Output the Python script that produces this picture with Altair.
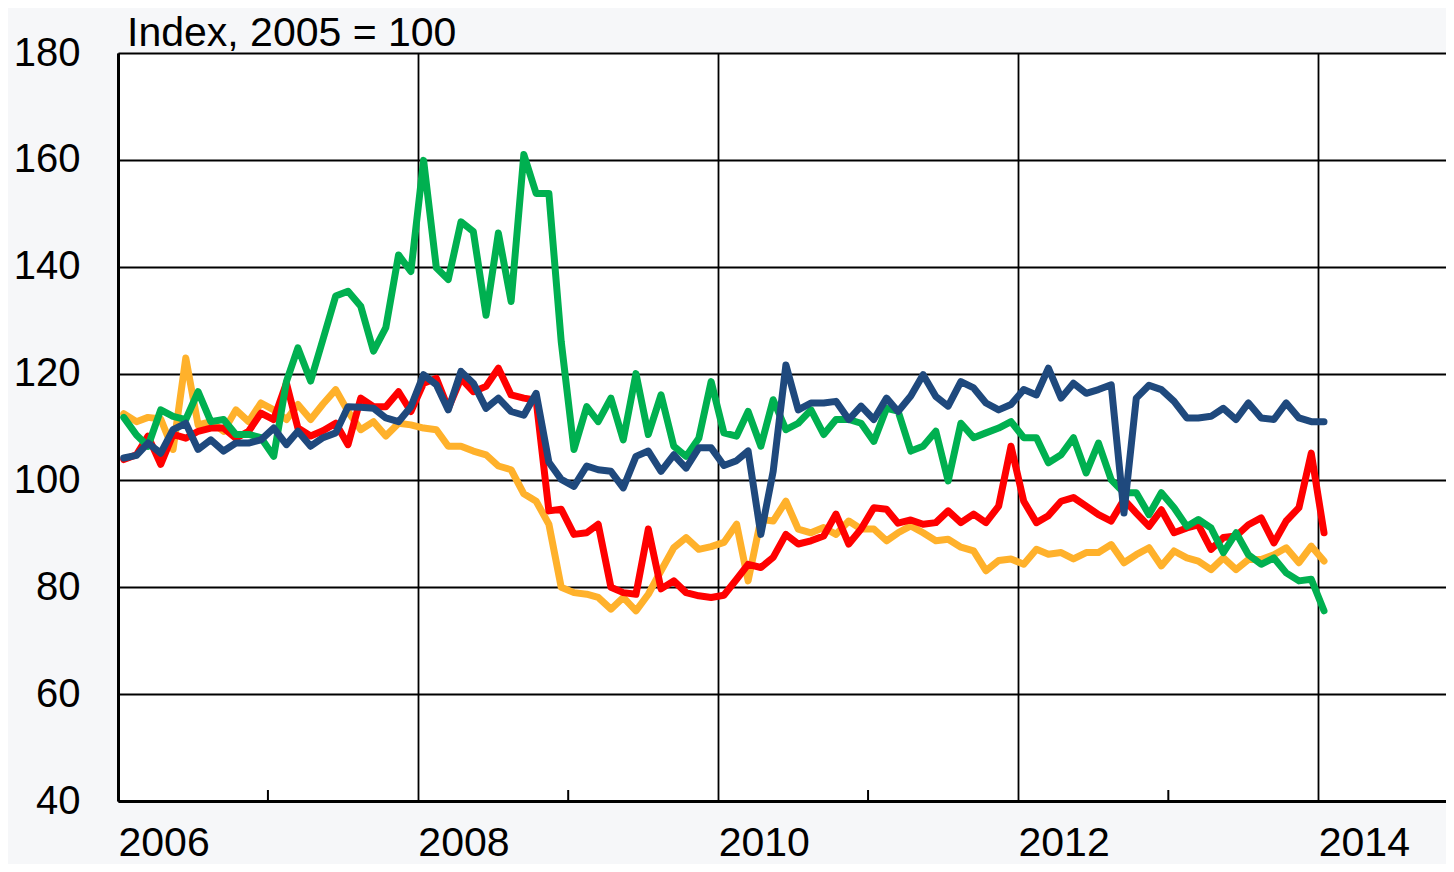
import altair as alt
import pandas as pd

# Monthly observations, Jan 2006 .. Jan 2014 (97 months)
months = pd.date_range("2006-01-01", periods=97, freq="MS") + pd.Timedelta(days=14)

orange = [112.5, 111, 111.8, 111.5, 105.8, 122.9, 110.4, 111, 109.2, 113.2, 111, 114.5, 113.2, 111.4, 114.2, 111.4,
          114.3, 117, 112.9, 109.5, 111, 108.3, 110.7, 110.4, 109.8, 109.5, 106.4, 106.4, 105.5, 104.8, 102.7, 102,
          97.5, 96.1, 91.8, 80, 79, 78.7, 78.1, 75.9, 78.1, 75.6, 78.7, 83.1, 87.4, 89.3, 87.1, 87.6,
          88.4, 91.8, 81.2, 92.7, 92.4, 96.1, 90.9, 90.2, 91.2, 89.9, 92.4, 90.9, 90.9, 88.7, 90.2, 91.5,
          90.2, 88.7, 89, 87.5, 86.8, 83.1, 85, 85.3, 84.3, 87.1, 86.2, 86.5, 85.3, 86.5, 86.5, 88,
          84.6, 86.1, 87.4, 84, 86.8, 85.5, 84.9, 83.3, 85.5, 83.3, 85.2, 85.2, 86.1, 87.4, 84.6, 87.7, 84.9]

red = [103.9, 104.8, 108.3, 103, 108.6, 107.9, 109.2, 109.8, 109.8, 107.9, 109.2, 112.6, 111.4, 118.2, 109.8, 108.3,
       109.3, 110.7, 106.7, 115.4, 113.8, 113.8, 116.6, 112.9, 118.2, 119.1, 113.5, 119.1, 116.6, 117.6, 121, 116,
       115.4, 115, 94.3, 94.6, 89.9, 90.2, 91.8, 80, 79, 78.7, 90.9, 79.7, 81.2, 79, 78.4, 78.1,
       78.5, 81.5, 84.3, 83.7, 85.6, 89.9, 88.1, 88.7, 89.6, 93.7, 88.1, 90.9, 94.9, 94.6, 92, 92.6,
       91.8, 92.1, 94.3, 92.1, 93.7, 92.1, 95.2, 106.4, 96.1, 92.1, 93.4, 96.1, 96.8, 95.2, 93.6, 92.4,
       96.4, 93.9, 91.4, 94.5, 90.2, 91.1, 91.7, 87.1, 89.3, 89.6, 91.7, 93, 88.3, 92.4, 94.9, 105.1, 90.2]

green = [111.8, 108.5, 106.4, 113.2, 112, 111.4, 116.6, 111, 111.4, 108.6, 108.6, 108, 104.5, 118.5, 124.8, 118.6,
         126.4, 134.5, 135.4, 132.6, 124.2, 128.6, 142.2, 139.1, 159.9, 139.8, 137.6, 148.4, 146.6, 130.9, 146.3, 133.5,
         161, 153.7, 153.7, 126, 105.8, 113.8, 111, 115.4, 107.6, 120, 108.6, 116, 106.4, 104.5, 107.9, 118.5,
         108.9, 108.3, 112.9, 106.4, 115.1, 109.5, 110.7, 113.2, 108.6, 111.4, 111.4, 110.7, 107.3, 113.5, 113, 105.5,
         106.4, 109.2, 99.9, 110.7, 108, 108.9, 109.8, 111, 108, 108, 103.3, 104.8, 108, 101.4, 107, 100.1,
         97.7, 97.7, 93.6, 97.7, 94.9, 91.4, 92.7, 91.1, 86.5, 90.2, 86.1, 84.3, 85.5, 82.7, 81.2, 81.5, 75.6]

blue = [104.2, 104.7, 107, 105.1, 109.5, 110.7, 105.8, 107.6, 105.5, 107, 107, 107.6, 109.8, 106.7, 109.2, 106.4,
        108, 108.9, 113.8, 113.7, 113.5, 111.7, 111, 113.8, 119.8, 117.9, 113.2, 120.4, 118.2, 113.5, 115.4, 112.9,
        112.2, 116.3, 103.4, 100.2, 98.9, 102.7, 102, 101.7, 98.6, 104.5, 105.5, 101.7, 104.8, 102.3, 106.1, 106.1,
        102.8, 103.7, 105.5, 89.9, 101.7, 121.6, 113.2, 114.5, 114.5, 114.8, 111.4, 113.9, 111.4, 115.4, 112.9, 115.8,
        119.8, 115.7, 113.9, 118.5, 117.3, 114.5, 113.2, 114.2, 117, 116, 121, 115.4, 118.2, 116.3, 117, 117.9,
        93.9, 115.4, 117.8, 117, 114.8, 111.7, 111.7, 112, 113.5, 111.4, 114.5, 111.7, 111.4, 114.5, 111.7, 111, 111]

series = [("Orange series", orange, "#FFB12B"),
          ("Red series", red, "#FF0000"),
          ("Green series", green, "#00B050"),
          ("Blue series", blue, "#1F497D")]

y_ticks = [40, 60, 80, 100, 120, 140, 160, 180]
label_years = [2006, 2008, 2010, 2012, 2014]
minor_years = [2007, 2009, 2011, 2013]
title_text = "Index, 2005 = 100"

FONT = "Liberation Sans"
W, H = 1328, 748

x_scale = alt.Scale(domain=[alt.DateTime(year=2006, month=1, date=1),
                            alt.DateTime(year=2014, month=11, date=8)])
y_scale = alt.Scale(domain=[40, 180], nice=False, zero=False)

x_axis = alt.Axis(values=[alt.DateTime(year=y, month=1, date=1) for y in label_years],
                  format="%Y", labelAlign="left", labelFontSize=41, labelFont=FONT,
                  labelColor="black", labelPadding=22, labelFlush=False, labelOverlap=False,
                  grid=True, gridColor="black", gridWidth=1.8, gridOpacity=1,
                  ticks=False, tickSize=0, domainColor="black", domainWidth=3, title=None)
y_axis = alt.Axis(values=y_ticks, labelFontSize=40, labelFont=FONT, labelColor="black",
                  labelPadding=38, grid=True, gridColor="black", gridWidth=1.8, gridOpacity=1,
                  ticks=False, tickSize=0, domainColor="black", domainWidth=3, title=None)

layers = []
for name, vals, col in series:
    df = pd.DataFrame({"date": months, "value": vals, "series": name})
    layers.append(
        alt.Chart(df).mark_line(color=col, strokeWidth=7, strokeCap="round", strokeJoin="round")
        .encode(x=alt.X("date:T", scale=x_scale, axis=x_axis),
                y=alt.Y("value:Q", scale=y_scale, axis=y_axis))
    )

ticks_df = pd.DataFrame({"date": [pd.Timestamp(year=y, month=1, day=1) for y in minor_years]})
minor = alt.Chart(ticks_df).mark_rule(color="black", strokeWidth=2).encode(
    x=alt.X("date:T", scale=x_scale, axis=x_axis),
    y=alt.value(H - 11), y2=alt.value(H))

title_df = pd.DataFrame({"t": [title_text]})
title = alt.Chart(title_df).mark_text(align="left", baseline="alphabetic", fontSize=41,
                                      font=FONT, color="black").encode(
    x=alt.value(9), y=alt.value(-7), text="t:N")

chart = alt.layer(*layers, minor, title).properties(
    width=W, height=H,
    autosize=alt.AutoSizeParams(type="none"),
    padding={"left": 110, "top": 45, "right": 0, "bottom": 63},
    background="#F6F7F9",
).configure_view(fill="white", strokeWidth=0)

chart.save("out.html", embed_options={"renderer": "svg", "actions": False})
